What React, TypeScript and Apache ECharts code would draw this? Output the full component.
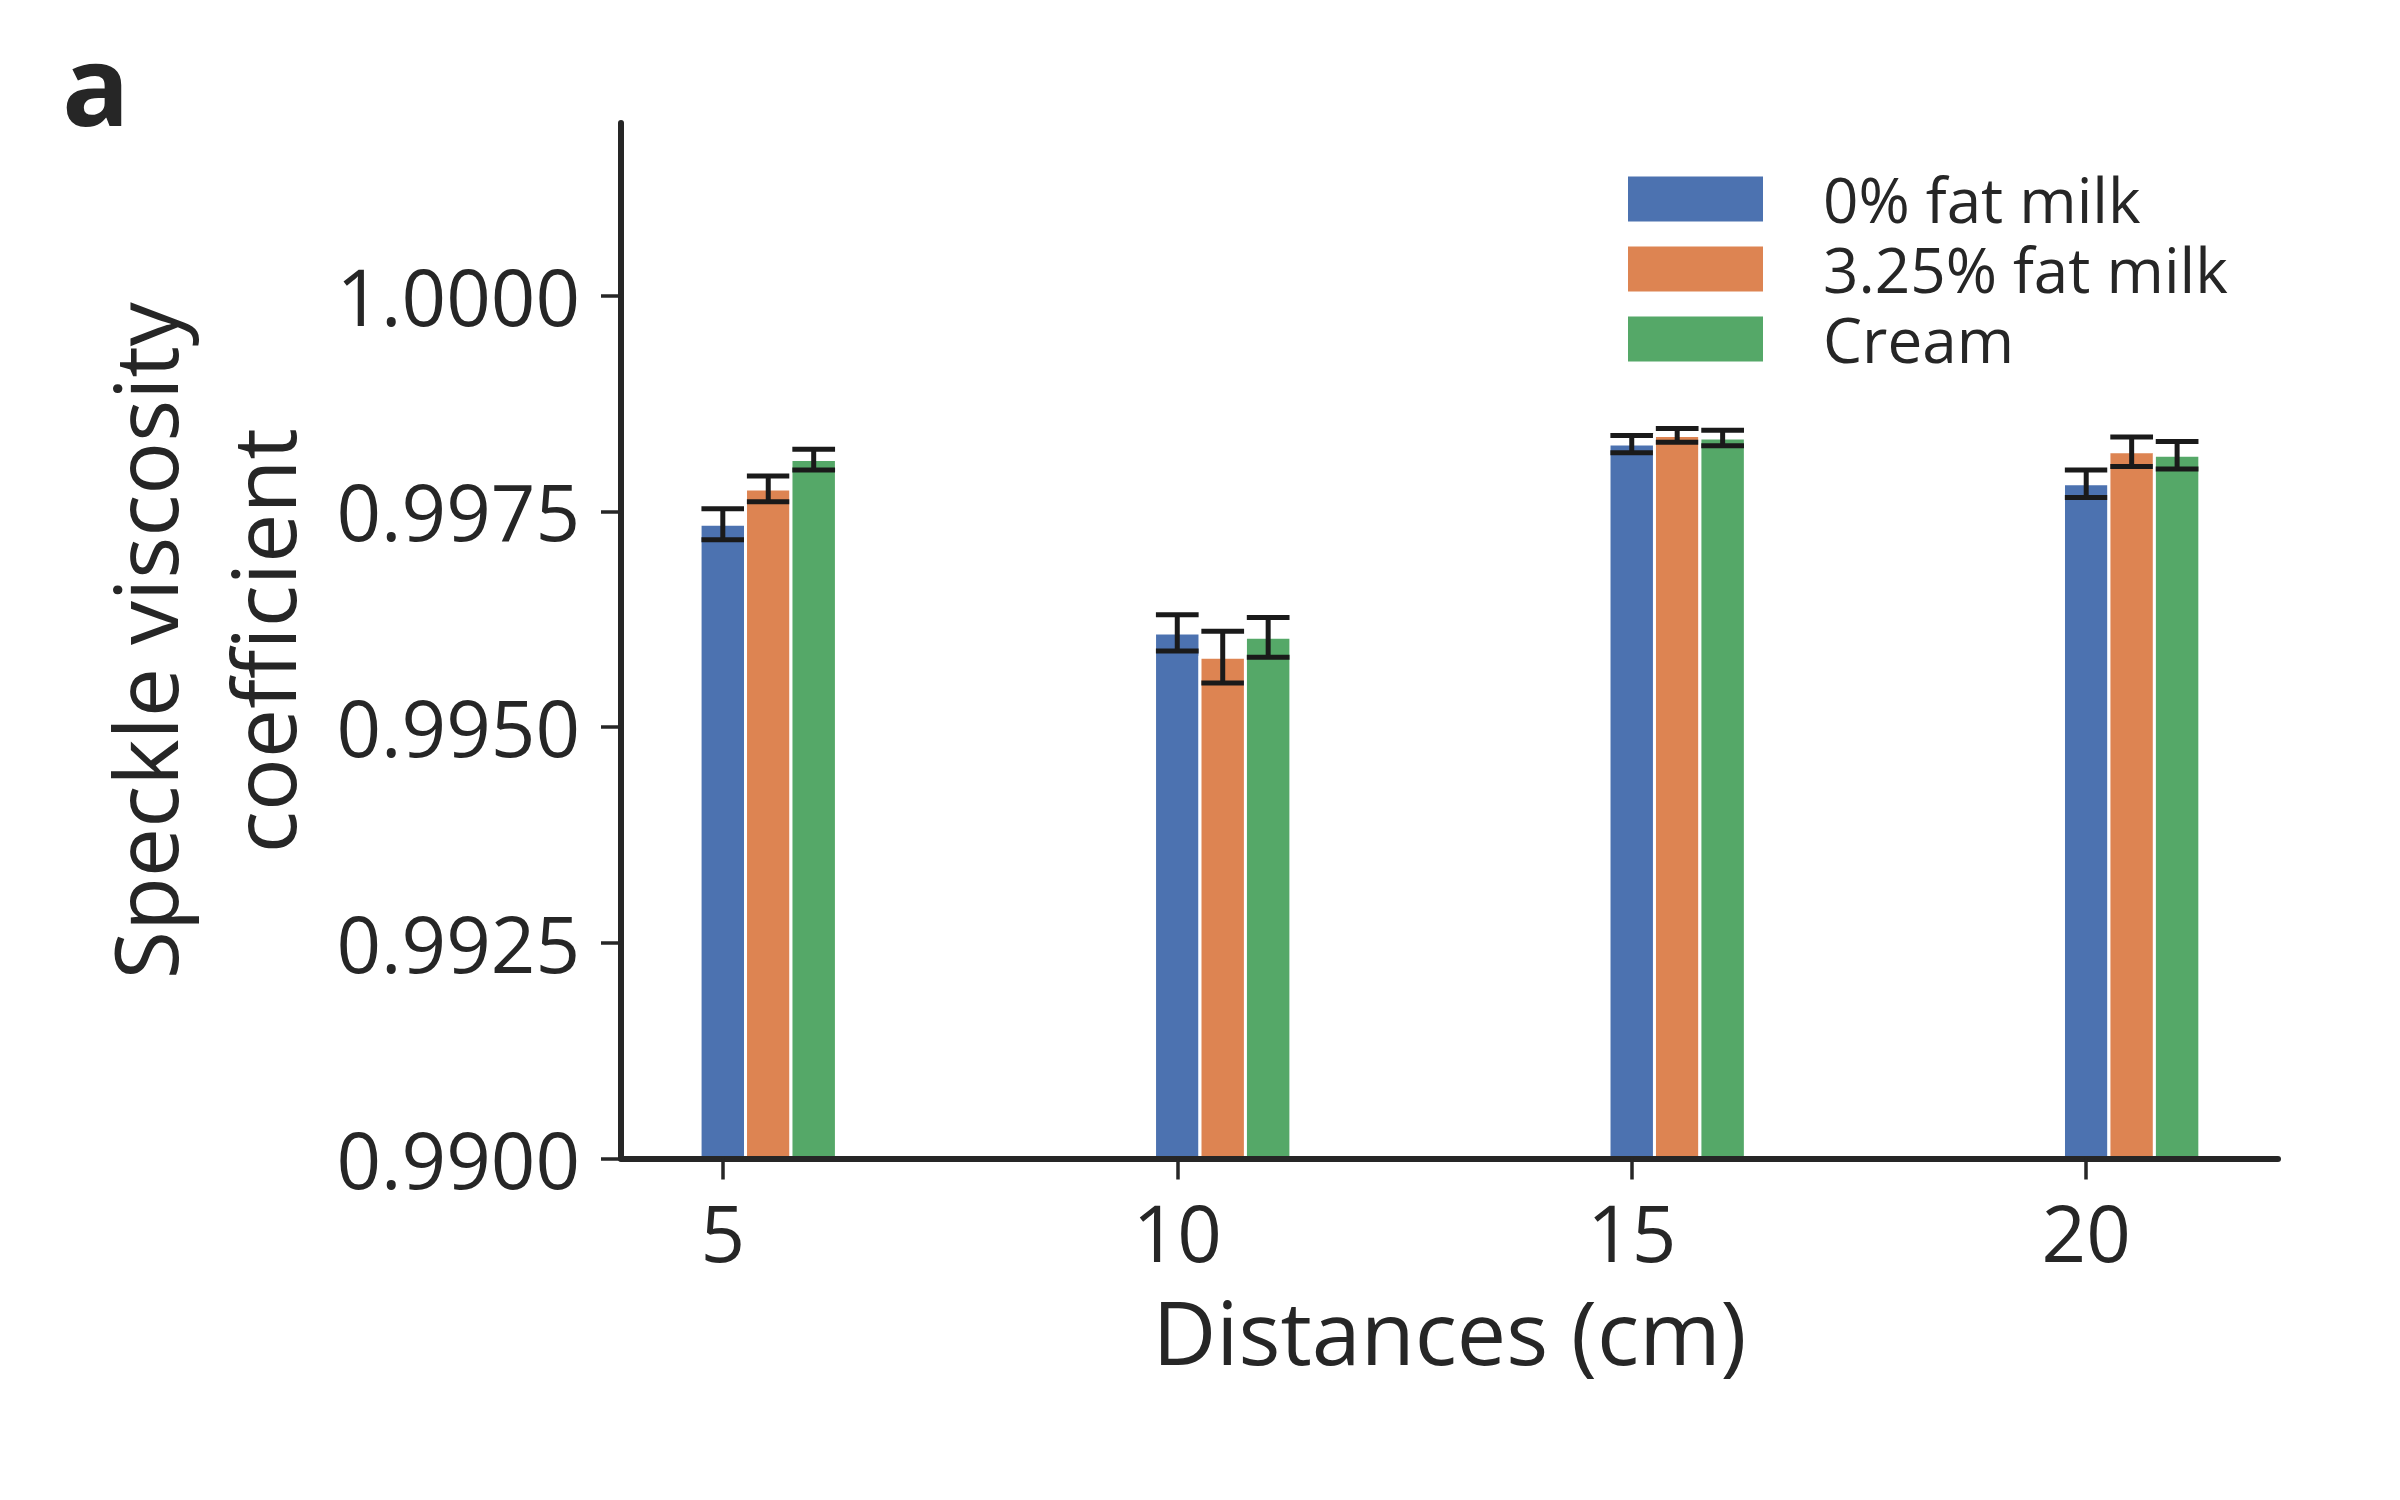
import React, { useEffect, useRef } from "react";
import * as echarts from "echarts";

// ---- data ----
const distances = [5, 10, 15, 20];
const seriesNames = ["0% fat milk", "3.25% fat milk", "Cream"];
const skimMilk = [0.99735, 0.99609, 0.99828, 0.99782];
const skimMilkErr = [0.00018, 0.00021, 0.0001, 0.00016];
const wholeMilk = [0.99776, 0.99581, 0.99838, 0.99819];
const wholeMilkErr = [0.00015, 0.0003, 0.00008, 0.00017];
const cream = [0.9981, 0.99604, 0.99835, 0.99815];
const creamErr = [0.00012, 0.00023, 0.00009, 0.00016];
const yTicks = [0.99, 0.9925, 0.995, 0.9975, 1.0];
const xTicks = [5, 10, 15, 20];

// ---- styling / layout ----
const COLORS = ["#4C72B0", "#DD8452", "#55A868"];
const OFFSETS = [0, 0.5, 1.0];
const BAR_W = 0.5;
const CAP_W = 0.47;
const Y_MIN = 0.99;
const Y_MAX = 1.002;
const FONT = "'Open Sans', 'Noto Sans', sans-serif";
const INK = "#262626";

function makeRender(offset: number) {
  return (params: any, api: any) => {
    const x = api.value(0) + offset;
    const v = api.value(1);
    const e = api.value(2);
    const tl = api.coord([x - BAR_W / 2, v]);
    const br = api.coord([x + BAR_W / 2, Y_MIN]);
    const top = api.coord([x, v + e]);
    const bot = api.coord([x, v - e]);
    const cl = api.coord([x - CAP_W / 2, v])[0];
    const cr = api.coord([x + CAP_W / 2, v])[0];
    const errStyle = { stroke: "#1a1a1a", lineWidth: 5 };
    return {
      type: "group",
      children: [
        {
          type: "rect",
          shape: { x: tl[0], y: tl[1], width: br[0] - tl[0], height: br[1] - tl[1] },
          style: { fill: api.visual("color"), stroke: "#ffffff", lineWidth: 3 },
        },
        { type: "line", shape: { x1: top[0], y1: top[1], x2: bot[0], y2: bot[1] }, style: errStyle },
        { type: "line", shape: { x1: cl, y1: top[1], x2: cr, y2: top[1] }, style: errStyle },
        { type: "line", shape: { x1: cl, y1: bot[1], x2: cr, y2: bot[1] }, style: errStyle },
      ],
    };
  };
}

export default function App() {
  const ref = useRef<HTMLDivElement>(null);
  useEffect(() => {
    document.body.style.margin = "0";
    const chart = echarts.init(ref.current!, null, { renderer: "svg" });
    const values = [skimMilk, wholeMilk, cream];
    const errs = [skimMilkErr, wholeMilkErr, creamErr];
    const series = seriesNames.map((name, i) => ({
      name,
      type: "custom",
      renderItem: makeRender(OFFSETS[i]),
      itemStyle: { color: COLORS[i] },
      encode: { x: 0, y: 1 },
      data: distances.map((d, j) => [d, values[i][j], errs[i][j]]),
      z: 2,
    }));
    chart.setOption({
      animation: false,
      color: COLORS,
      backgroundColor: "#ffffff",
      textStyle: { fontFamily: FONT, color: INK },
      grid: { left: 621, right: 122, top: 123, bottom: 341.5, containLabel: false },
      legend: {
        orient: "vertical",
        left: 1628,
        top: 168,
        padding: 0,
        itemWidth: 135,
        itemHeight: 45,
        itemGap: 8,
        icon: "rect",
        data: seriesNames,
        textStyle: {
          fontFamily: FONT,
          fontSize: 62,
          lineHeight: 62,
          color: INK,
          padding: [0, 0, 0, 55],
        },
      },
      graphic: [
        {
          type: "text",
          left: 62,
          top: 26,
          style: { text: "a", font: `bold 112px ${FONT}`, fill: INK },
        },
      ],
      xAxis: {
        type: "value",
        min: 3.88,
        max: 22.11,
        z: 10,
        name: "Distances (cm)",
        nameLocation: "middle",
        nameGap: 128,
        nameTextStyle: { fontSize: 88, lineHeight: 88, color: INK, fontFamily: FONT },
        axisLine: { show: true, lineStyle: { color: INK, width: 6 } },
        axisTick: { show: true, length: 21, lineStyle: { color: INK, width: 3.5 }, customValues: xTicks },
        axisLabel: {
          fontSize: 78,
          lineHeight: 78,
          color: INK,
          margin: 34,
          customValues: xTicks,
          fontFamily: FONT,
        },
        splitLine: { show: false },
      },
      yAxis: {
        type: "value",
        min: Y_MIN,
        max: Y_MAX,
        z: 10,
        name: "Speckle viscosity\ncoefficient",
        nameLocation: "middle",
        nameGap: 300,
        nameTextStyle: { fontSize: 88, lineHeight: 118, color: INK, fontFamily: FONT },
        axisLine: { show: true, lineStyle: { color: INK, width: 6 } },
        axisTick: { show: true, length: 20, lineStyle: { color: INK, width: 3.5 }, customValues: yTicks },
        axisLabel: {
          fontSize: 78,
          color: INK,
          margin: 41,
          customValues: yTicks,
          fontFamily: FONT,
          formatter: (v: number) => v.toFixed(4),
        },
        splitLine: { show: false },
      },
      series,
    });
    return () => chart.dispose();
  }, []);
  return (
    <div
      ref={ref}
      style={{ position: "fixed", left: 0, top: 0, width: 2400, height: 1500 }}
    />
  );
}
